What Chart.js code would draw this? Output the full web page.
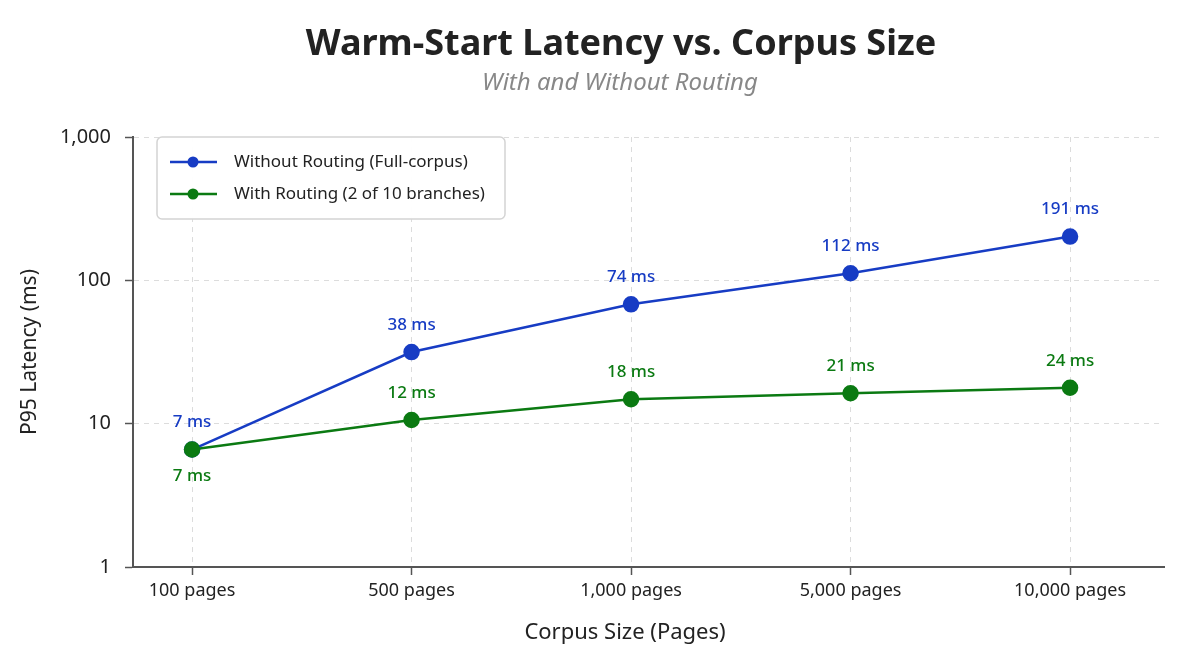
<!DOCTYPE html>
<html>
<head>
<meta charset="utf-8">
<script src="https://cdn.jsdelivr.net/npm/chart.js@4/dist/chart.umd.min.js"></script>
<style>
    html, body { margin: 0; padding: 0; background: #fff; }
    #wrap { width: 1200px; height: 671px; }
</style>
</head>
<body>
<div id="wrap"><canvas id="latency-chart"></canvas></div>
<script>
const corpusSizes = ['100 pages', '500 pages', '1,000 pages', '5,000 pages', '10,000 pages'];
// plotted positions
const withoutRouting = [6.6, 31.6, 68, 112, 202];
const withRouting = [6.6, 10.6, 14.8, 16.3, 17.8];
// annotation texts shown next to each point
const withoutRoutingLabels = [7, 38, 74, 112, 191];
const withRoutingLabels = [7, 12, 18, 21, 24];
const yTicks = [1, 10, 100, 1000];

const blue = '#173cc4';
const green = '#0b7a12';
const font = "'Noto Sans', 'Open Sans', sans-serif";

const titles = {
    id: 'titles',
    afterDraw(chart) {
        const ctx = chart.ctx;
        ctx.save();
        ctx.textAlign = 'center';
        ctx.textBaseline = 'middle';
        ctx.fillStyle = '#222';
        ctx.font = 'bold 36px ' + font;
        ctx.fillText('Warm-Start Latency vs. Corpus Size', 621, 45);
        ctx.fillStyle = '#888';
        ctx.font = 'italic 24px ' + font;
        ctx.fillText('With and Without Routing', 620, 83);
        ctx.fillStyle = '#222';
        ctx.font = '22px ' + font;
        ctx.fillText('Corpus Size (Pages)', 625, 633);
        ctx.restore();
    }
};

const pointLabels = {
    id: 'pointLabels',
    afterDatasetsDraw(chart) {
        const ctx = chart.ctx;
        const sets = [
            {idx: 0, texts: withoutRoutingLabels, color: blue, below: []},
            {idx: 1, texts: withRoutingLabels, color: green, below: [0]}
        ];
        ctx.save();
        ctx.font = '500 17px ' + font;
        ctx.textAlign = 'center';
        ctx.textBaseline = 'middle';
        sets.forEach(s => {
            const meta = chart.getDatasetMeta(s.idx);
            meta.data.forEach((pt, i) => {
                const dy = s.below.includes(i) ? 27 : -27;
                ctx.fillStyle = s.color;
                ctx.fillText(s.texts[i] + ' ms', pt.x, pt.y + dy);
            });
        });
        ctx.restore();
    }
};

const boxLegend = {
    id: 'boxLegend',
    afterDraw(chart) {
        const ctx = chart.ctx;
        const x = 157, y = 137, w = 348, h = 82;
        ctx.save();
        ctx.beginPath();
        ctx.roundRect(x, y, w, h, 5);
        ctx.fillStyle = 'rgba(255,255,255,0.95)';
        ctx.fill();
        ctx.strokeStyle = '#d4d4d4';
        ctx.lineWidth = 1.5;
        ctx.stroke();
        const rows = [
            {text: 'Without Routing (Full-corpus)', color: blue, cy: 162},
            {text: 'With Routing (2 of 10 branches)', color: green, cy: 194}
        ];
        rows.forEach(r => {
            ctx.strokeStyle = r.color;
            ctx.lineWidth = 2.5;
            ctx.beginPath();
            ctx.moveTo(170, r.cy);
            ctx.lineTo(217, r.cy);
            ctx.stroke();
            ctx.fillStyle = r.color;
            ctx.beginPath();
            ctx.arc(193, r.cy, 5.5, 0, Math.PI * 2);
            ctx.fill();
            ctx.fillStyle = '#222';
            ctx.font = '17px ' + font;
            ctx.textAlign = 'left';
            ctx.textBaseline = 'middle';
            ctx.fillText(r.text, 234, r.cy);
        });
        ctx.restore();
    }
};

document.addEventListener("DOMContentLoaded", () => {
    const el = document.getElementById('latency-chart');
    new Chart(el, {
        type: 'line',
        data: {
            datasets: [
                {
                    label: 'Without Routing (Full-corpus)',
                    data: withoutRouting.map((v, i) => ({x: i, y: v})),
                    borderColor: blue,
                    backgroundColor: blue,
                    borderWidth: 2.5,
                    pointRadius: 7,
                    pointHoverRadius: 7,
                    order: 2
                },
                {
                    label: 'With Routing (2 of 10 branches)',
                    data: withRouting.map((v, i) => ({x: i, y: v})),
                    borderColor: green,
                    backgroundColor: green,
                    borderWidth: 2.5,
                    pointRadius: 7,
                    pointHoverRadius: 7,
                    order: 1
                }
            ]
        },
        options: {
            responsive: true,
            maintainAspectRatio: false,
            animation: false,
            layout: { padding: { left: 0, right: 36, top: 137, bottom: 0 } },
            plugins: {
                legend: { display: false },
                tooltip: { enabled: false }
            },
            scales: {
                x: {
                    type: 'linear',
                    min: -0.269,
                    max: 4.428,
                    afterBuildTicks: (scale) => {
                        scale.ticks = corpusSizes.map((_, i) => ({value: i}));
                    },
                    ticks: {
                        callback: (v) => corpusSizes[v],
                        color: '#222',
                        font: { family: font, size: 18 },
                        padding: 5,
                        maxRotation: 0
                    },
                    grid: {
                        color: '#dcdcdc',
                        tickColor: '#555',
                        tickLength: 8,
                        tickWidth: 1.5
                    },
                    border: { color: '#555', width: 2, dash: [5, 5] },
                    afterFit: (scale) => { scale.height = 104; }
                },
                y: {
                    type: 'logarithmic',
                    min: 1,
                    max: 1000,
                    afterBuildTicks: (scale) => {
                        scale.ticks = yTicks.map(v => ({value: v}));
                    },
                    ticks: {
                        callback: (v) => v.toLocaleString('en-US'),
                        color: '#222',
                        font: { family: font, size: 20 },
                        padding: 14
                    },
                    grid: {
                        color: '#dcdcdc',
                        tickColor: '#555',
                        tickLength: 8,
                        tickWidth: 1.5
                    },
                    border: { color: '#555', width: 2, dash: [5, 5] },
                    title: {
                        display: true,
                        text: 'P95 Latency (ms)',
                        color: '#222',
                        font: { family: font, size: 21 },
                        padding: { top: 17, bottom: 0 }
                    },
                    afterFit: (scale) => { scale.width = 133; }
                }
            }
        },
        plugins: [pointLabels, boxLegend, titles]
    });
});
</script>
</body>
</html>
